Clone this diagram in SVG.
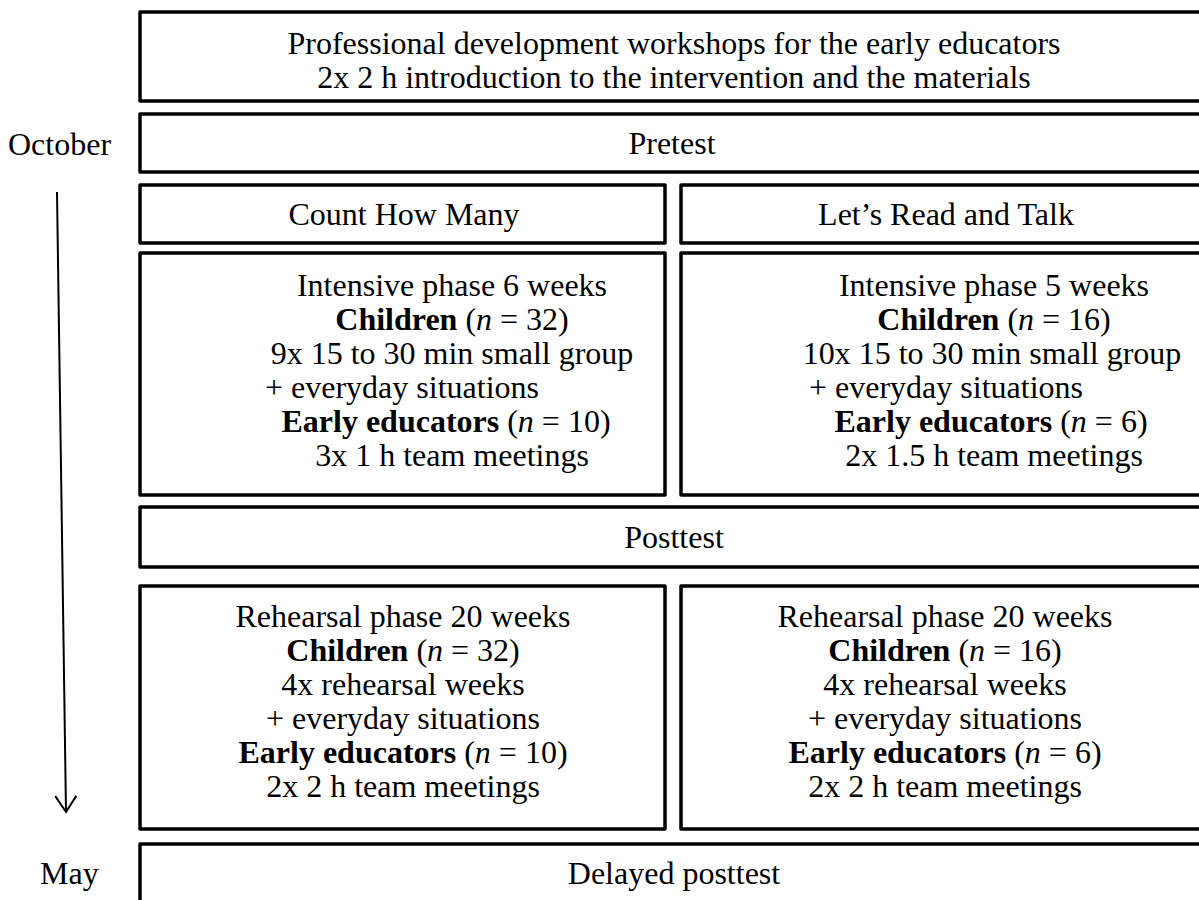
<svg xmlns="http://www.w3.org/2000/svg" width="1199" height="900" viewBox="0 0 1199 900">
<style>
text{font-family:"Liberation Serif","Times New Roman",serif;font-size:32px;fill:#000}
.c{text-anchor:middle}
.b{font-weight:bold}
.i{font-style:italic}
.box{fill:#fff;stroke:#000;stroke-width:3.5;stroke-linejoin:round}
.conn{stroke:#000;stroke-width:2;fill:none}
</style>
<defs>
<marker id="ah" markerUnits="userSpaceOnUse" markerWidth="20" markerHeight="26" viewBox="-2 -2 20 25" refX="16" refY="10.5" orient="auto" overflow="visible">
<path d="M0,0 L16,10.5 L0,21" fill="none" stroke="#000" stroke-width="2"/>
</marker>
</defs>
<rect width="1199" height="900" fill="#fff"/>

<g id="workshops">
<rect class="box" x="140" y="12" width="1066" height="89"/>
<text class="c" x="674" y="54">Professional development workshops for the early educators</text>
<text class="c" x="674" y="88">2x 2 h introduction to the intervention and the materials</text>
</g>

<g id="october"><text x="8" y="155">October</text></g>

<g id="pretest">
<rect class="box" x="140" y="114" width="1066" height="58"/>
<text class="c" x="672" y="154">Pretest</text>
</g>

<g id="count-how-many">
<rect class="box" x="140" y="185" width="525" height="58"/>
<text class="c" x="404" y="225">Count How Many</text>
</g>

<g id="lets-read">
<rect class="box" x="681" y="185" width="525" height="58"/>
<text class="c" x="946" y="225">Let’s Read and Talk</text>
</g>

<g id="intensive-chm">
<rect class="box" x="140" y="253" width="525" height="242"/>
<text class="c" x="452" y="296">Intensive phase 6 weeks</text>
<text class="c" x="452" y="330"><tspan class="b">Children</tspan> (<tspan class="i">n</tspan> = 32)</text>
<text class="c" x="452" y="364">9x 15 to 30 min small group</text>
<text x="265" y="398">+ everyday situations</text>
<text class="c" x="446" y="432"><tspan class="b">Early educators</tspan> (<tspan class="i">n</tspan> = 10)</text>
<text class="c" x="452" y="466">3x 1 h team meetings</text>
</g>

<g id="intensive-lrt">
<rect class="box" x="681" y="253" width="525" height="242"/>
<text class="c" x="994" y="296">Intensive phase 5 weeks</text>
<text class="c" x="994" y="330"><tspan class="b">Children</tspan> (<tspan class="i">n</tspan> = 16)</text>
<text class="c" x="992" y="364">10x 15 to 30 min small group</text>
<text x="809" y="398">+ everyday situations</text>
<text class="c" x="991" y="432"><tspan class="b">Early educators</tspan> (<tspan class="i">n</tspan> = 6)</text>
<text class="c" x="994" y="466">2x 1.5 h team meetings</text>
</g>

<g id="posttest">
<rect class="box" x="140" y="507" width="1066" height="60"/>
<text class="c" x="674" y="548">Posttest</text>
</g>

<g id="rehearsal-chm">
<rect class="box" x="140" y="586" width="525" height="243"/>
<text class="c" x="403" y="627">Rehearsal phase 20 weeks</text>
<text class="c" x="403" y="661"><tspan class="b">Children</tspan> (<tspan class="i">n</tspan> = 32)</text>
<text class="c" x="403" y="695">4x rehearsal weeks</text>
<text class="c" x="403" y="729">+ everyday situations</text>
<text class="c" x="403" y="763"><tspan class="b">Early educators</tspan> (<tspan class="i">n</tspan> = 10)</text>
<text class="c" x="403" y="797">2x 2 h team meetings</text>
</g>

<g id="rehearsal-lrt">
<rect class="box" x="681" y="586" width="525" height="243"/>
<text class="c" x="945" y="627">Rehearsal phase 20 weeks</text>
<text class="c" x="945" y="661"><tspan class="b">Children</tspan> (<tspan class="i">n</tspan> = 16)</text>
<text class="c" x="945" y="695">4x rehearsal weeks</text>
<text class="c" x="945" y="729">+ everyday situations</text>
<text class="c" x="945" y="763"><tspan class="b">Early educators</tspan> (<tspan class="i">n</tspan> = 6)</text>
<text class="c" x="945" y="797">2x 2 h team meetings</text>
</g>

<g id="may"><text x="40" y="884">May</text></g>

<g id="delayed-posttest">
<rect class="box" x="140" y="844" width="1066" height="70"/>
<text class="c" x="674" y="884">Delayed posttest</text>
</g>

<g id="connectors">
<path class="conn" d="M57,192 L66,812" marker-end="url(#ah)"/>
</g>
</svg>
